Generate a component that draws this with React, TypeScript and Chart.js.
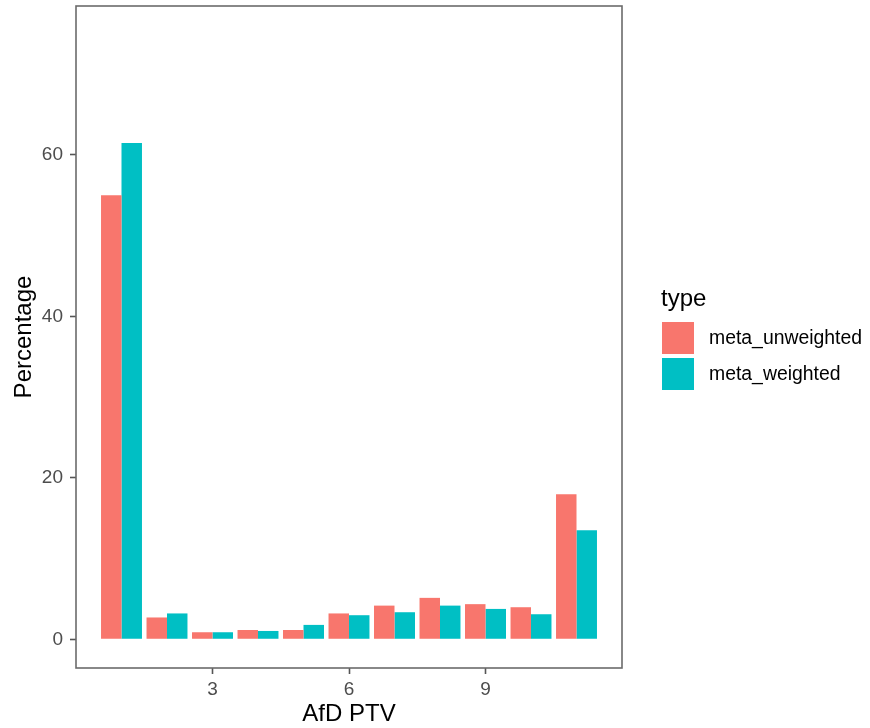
import React, { useEffect, useRef } from "react";
import { Chart, registerables } from "chart.js";

Chart.register(...registerables);

const categories = [1, 2, 3, 4, 5, 6, 7, 8, 9, 10, 11];
const metaUnweighted = [55.0, 2.7, 0.87, 1.15, 1.15, 3.2, 4.17, 5.13, 4.35, 3.97, 17.96];
const metaWeighted = [61.5, 3.2, 0.87, 1.03, 1.78, 2.98, 3.35, 4.17, 3.76, 3.1, 13.5];
const xTicks = [3, 6, 9];
const yTicks = [0, 20, 40, 60];
const seriesNames = ["meta_unweighted", "meta_weighted"];
const seriesColors = ["#F8766D", "#00BFC4"];

const FONT = "'Liberation Sans', Arial, sans-serif";

const panelPlugin = {
  id: "panelAndLegend",
  afterDraw(chart: any) {
    const ctx = chart.ctx;
    const a = chart.chartArea;
    ctx.save();
    ctx.strokeStyle = "#6b6b6b";
    ctx.lineWidth = 1.6;
    ctx.strokeRect(a.left, a.top, a.right - a.left, a.bottom - a.top);

    // legend
    ctx.fillStyle = "#000000";
    ctx.font = `24px ${FONT}`;
    ctx.textBaseline = "alphabetic";
    ctx.textAlign = "left";
    ctx.fillText("type", 661, 306);
    const keyX = 662;
    const keyY0 = 322;
    const keySize = 32;
    const keyStep = 36;
    ctx.font = `19.4px ${FONT}`;
    ctx.textBaseline = "middle";
    seriesNames.forEach((name, i) => {
      ctx.fillStyle = seriesColors[i];
      ctx.fillRect(keyX, keyY0 + i * keyStep, keySize, keySize);
      ctx.fillStyle = "#000000";
      ctx.fillText(name, 709, keyY0 + i * keyStep + keySize / 2 + 1);
    });
    ctx.restore();
  },
};

export default function App() {
  const ref = useRef<HTMLCanvasElement | null>(null);

  useEffect(() => {
    document.body.style.margin = "0";
    const canvas = ref.current;
    if (!canvas) return;
    const chart = new Chart(canvas, {
      type: "bar",
      data: {
        datasets: [
          {
            label: seriesNames[0],
            data: categories.map((c, i) => ({ x: c, y: metaUnweighted[i] })),
            backgroundColor: seriesColors[0],
            borderWidth: 0,
            categoryPercentage: 0.9,
            barPercentage: 1.0,
          },
          {
            label: seriesNames[1],
            data: categories.map((c, i) => ({ x: c, y: metaWeighted[i] })),
            backgroundColor: seriesColors[1],
            borderWidth: 0,
            categoryPercentage: 0.9,
            barPercentage: 1.0,
          },
        ] as any,
      },
      options: {
        responsive: false,
        animation: false,
        devicePixelRatio: 1,
        layout: { padding: { left: 0, right: 248, top: 6, bottom: 0 } },
        plugins: {
          legend: { display: false },
          tooltip: { enabled: false },
        },
        scales: {
          x: {
            type: "linear",
            min: 0,
            max: 12,
            offset: false,
            afterBuildTicks: (scale: any) => {
              scale.ticks = xTicks.map((v) => ({ value: v }));
            },
            afterFit: (scale: any) => {
              scale.height = 60;
              scale.paddingLeft = 0;
              scale.paddingRight = 0;
            },
            ticks: {
              font: { family: FONT, size: 19 },
              color: "#4D4D4D",
              padding: 4,
              maxRotation: 0,
              autoSkip: false,
            },
            grid: {
              offset: false,
              drawOnChartArea: false,
              drawTicks: true,
              tickLength: 6,
              tickColor: "#555555",
              tickWidth: 1.6,
            },
            border: { display: false },
            title: {
              display: true,
              text: "AfD PTV",
              font: { family: FONT, size: 24 },
              color: "#000000",
              padding: { top: 0, bottom: -1 },
            },
          },
          y: {
            type: "linear",
            min: -3.56,
            max: 78.46,
            afterBuildTicks: (scale: any) => {
              scale.ticks = yTicks.map((v) => ({ value: v }));
            },
            afterFit: (scale: any) => {
              scale.width = 76;
              scale.paddingTop = 0;
              scale.paddingBottom = 0;
            },
            ticks: {
              font: { family: FONT, size: 19 },
              color: "#4D4D4D",
              padding: 7,
            },
            grid: {
              drawOnChartArea: false,
              drawTicks: true,
              tickLength: 6,
              tickColor: "#555555",
              tickWidth: 1.6,
            },
            border: { display: false },
            title: {
              display: true,
              text: "Percentage",
              font: { family: FONT, size: 24 },
              color: "#000000",
              padding: { top: 10, bottom: 0 },
            },
          },
        },
      },
      plugins: [panelPlugin],
    });
    return () => chart.destroy();
  }, []);

  return (
    <canvas
      ref={ref}
      width={870}
      height={728}
      style={{ display: "block", width: "870px", height: "728px" }}
    />
  );
}
